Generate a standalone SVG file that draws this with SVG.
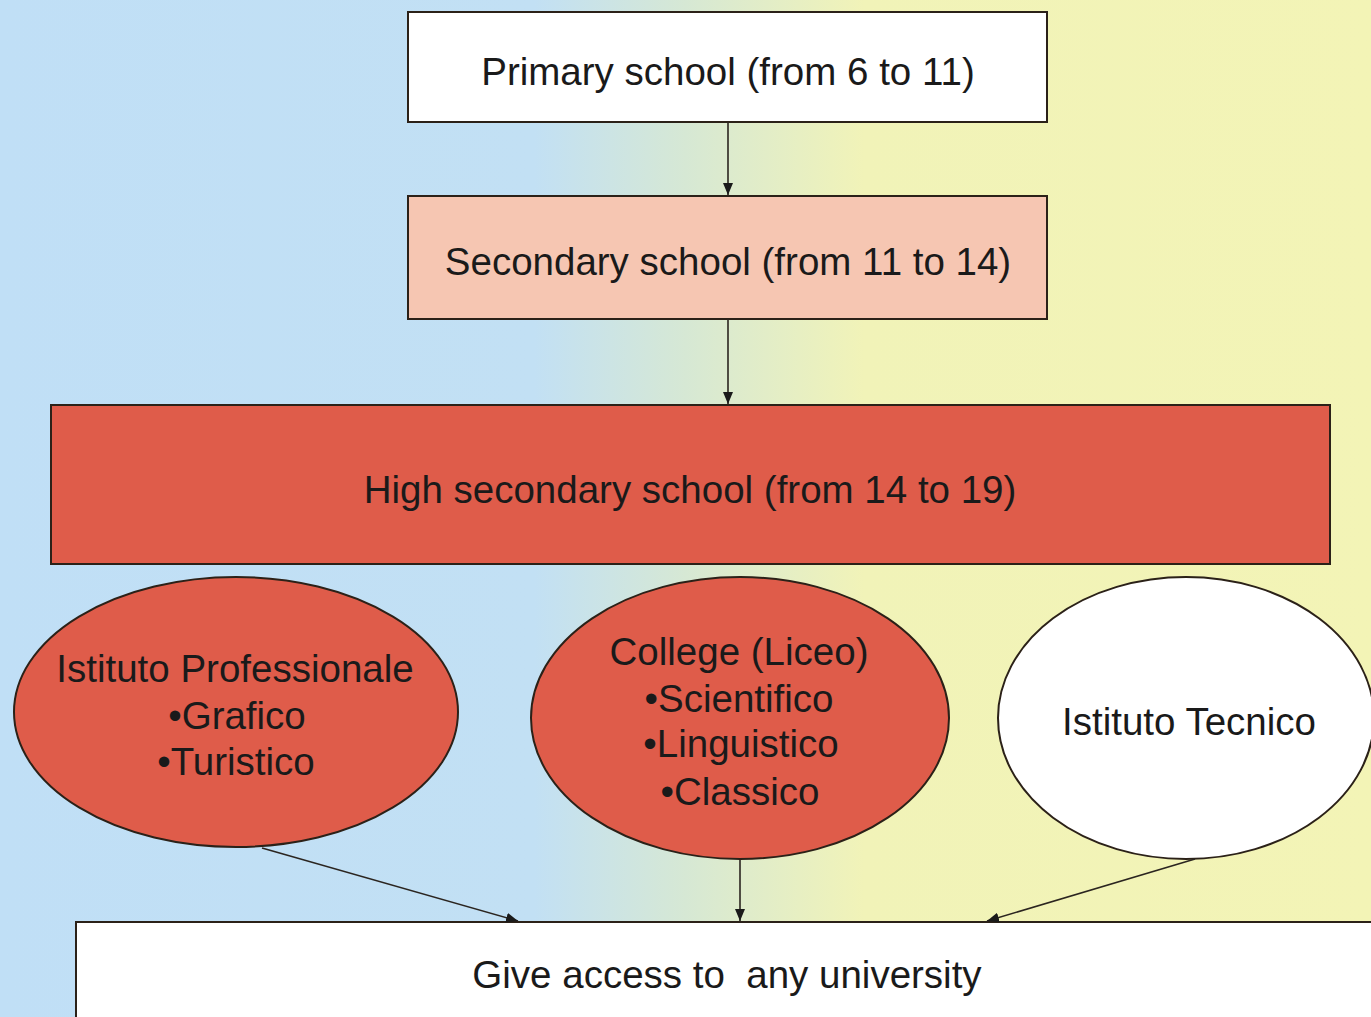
<svg xmlns="http://www.w3.org/2000/svg" width="1371" height="1017" viewBox="0 0 1371 1017">
<defs>
<linearGradient id="bg" x1="0" y1="0" x2="1371" y2="0" gradientUnits="userSpaceOnUse">
<stop offset="0" stop-color="#c0dff6"/>
<stop offset="0.39" stop-color="#c2e0f4"/>
<stop offset="0.5" stop-color="#d6e8d4"/>
<stop offset="0.63" stop-color="#f1f3b8"/>
<stop offset="1" stop-color="#f3f4b6"/>
</linearGradient>
<marker id="ah" viewBox="0 0 12 10" refX="12" refY="5" markerWidth="12" markerHeight="10" markerUnits="userSpaceOnUse" orient="auto">
<path d="M0,0 L12,5 L0,10 z" fill="#1a1a1a"/>
</marker>
<style>
.box{stroke:#2b2118;stroke-width:2}
.t{font-family:"Liberation Sans",Arial,sans-serif;font-size:38.5px;fill:#1a1a1a;text-anchor:middle}
.c{stroke:#2b2520;stroke-width:1.6;fill:none;marker-end:url(#ah)}
</style>
</defs>
<rect x="0" y="0" width="1371" height="1017" fill="url(#bg)"/>
<g id="primary">
<rect class="box" x="408" y="12" width="639" height="110" fill="#ffffff"/>
<text class="t" x="728" y="85">Primary school (from 6 to 11)</text>
</g>
<g id="secondary">
<rect class="box" x="408" y="196" width="639" height="123" fill="#f6c6b2"/>
<text class="t" x="728" y="275">Secondary school (from 11 to 14)</text>
</g>
<g id="high">
<rect class="box" x="51" y="405" width="1279" height="159" fill="#df5c4a"/>
<text class="t" x="690" y="503">High secondary school (from 14 to 19)</text>
</g>
<g id="professionale">
<ellipse class="box" cx="236" cy="712" rx="222" ry="135" fill="#df5c4a"/>
<text class="t" x="235" y="682">Istituto Professionale</text>
<text class="t" x="237" y="729">•Grafico</text>
<text class="t" x="236" y="775">•Turistico</text>
</g>
<g id="liceo">
<ellipse class="box" cx="740" cy="718" rx="209" ry="141" fill="#df5c4a"/>
<text class="t" x="739" y="665">College (Liceo)</text>
<text class="t" x="739" y="712">•Scientifico</text>
<text class="t" x="741" y="757">•Linguistico</text>
<text class="t" x="740" y="805">•Classico</text>
</g>
<g id="tecnico">
<ellipse class="box" cx="1186" cy="718" rx="188" ry="141" fill="#ffffff"/>
<text class="t" x="1189" y="735">Istituto Tecnico</text>
</g>
<g id="university">
<rect class="box" x="76" y="922" width="1310" height="120" fill="#ffffff"/>
<text class="t" x="727" y="988" style="white-space:pre">Give access to  any university</text>
</g>
<g id="connectors">
<line class="c" x1="728" y1="122" x2="728" y2="195"/>
<line class="c" x1="728" y1="319" x2="728" y2="404"/>
<line class="c" x1="262" y1="848" x2="518" y2="921"/>
<line class="c" x1="740" y1="860" x2="740" y2="921"/>
<line class="c" x1="1195" y1="859" x2="987" y2="921"/>
</g>
</svg>
